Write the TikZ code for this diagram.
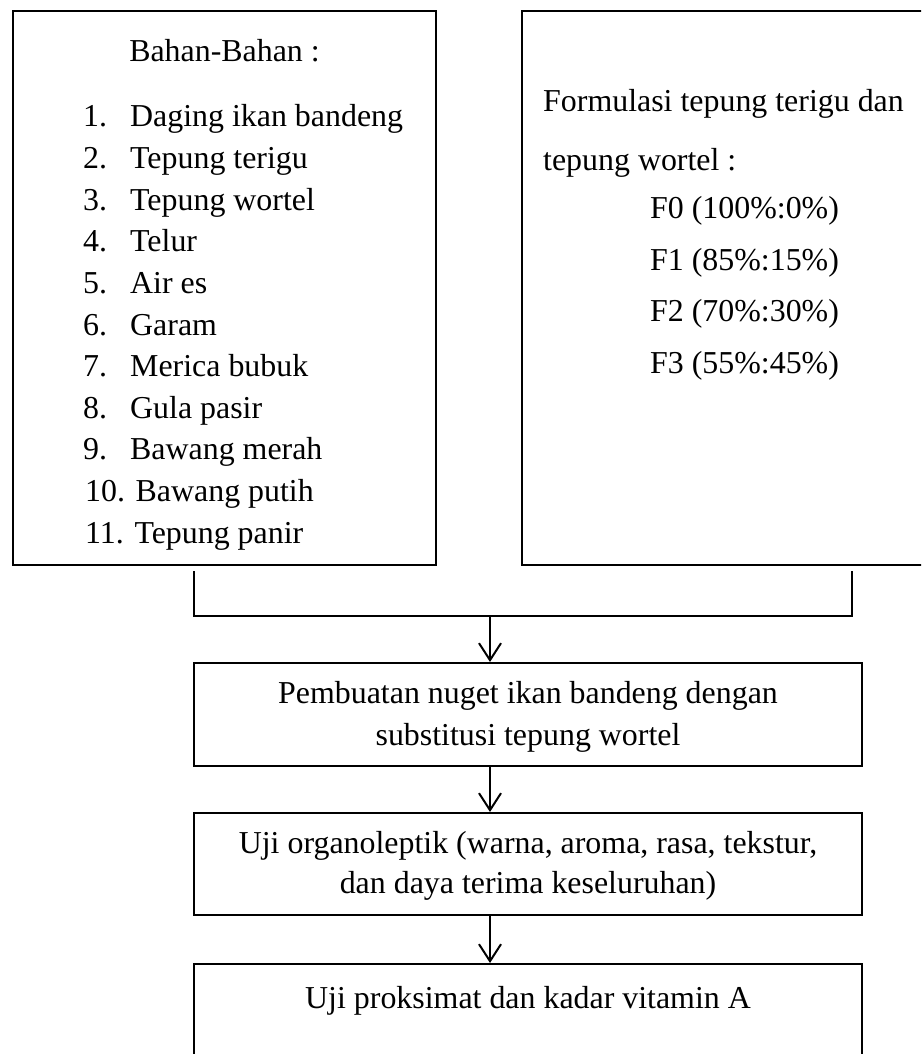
\documentclass[tikz,border=0pt]{standalone}
\usepackage{fontspec}
\setmainfont{Liberation Serif}
\usetikzlibrary{arrows.meta}
\begin{document}
\begin{tikzpicture}[x=1pt,y=-1pt,
  box/.style={draw, line width=2pt, inner sep=0pt},
  txt/.style={anchor=base west, inner sep=0pt, font=\fontsize{31.9pt}{40pt}\selectfont},
  ctxt/.style={anchor=base, inner sep=0pt, font=\fontsize{31.9pt}{40pt}\selectfont},
  conn/.style={line width=2pt},
  arr/.style={line width=2pt, -{Straight Barb[length=17pt,width=22pt,line width=2pt]}}]
\useasboundingbox (0,0) rectangle (921,1054);
\clip (0,0) rectangle (921,1054);
% boxes
\node[box, minimum width=423pt, minimum height=554pt] (bahan) at (224.5,288) {};
\node[box, minimum width=420pt, minimum height=554pt] (formula) at (732,288) {};
\node[box, minimum width=668pt, minimum height=103pt] (buat) at (528,714.5) {};
\node[box, minimum width=668pt, minimum height=102pt] (organo) at (528,864) {};
\node[box, minimum width=668pt, minimum height=112pt] (proks) at (528,1020) {};
% left text
\node[ctxt] (bhead) at (224.5,62) {Bahan-Bahan :};
\foreach \n/\t [count=\k] in {1/Daging ikan bandeng, 2/Tepung terigu, 3/Tepung wortel, 4/Telur, 5/Air es, 6/Garam, 7/Merica bubuk, 8/Gula pasir, 9/Bawang merah}{
  \node[txt] (num\k) at (83,{127+41.6*(\k-1)}) {\n.};
  \node[txt] (item\k) at (130,{127+41.6*(\k-1)}) {\t};
}
\node[txt] (item10) at (85,501.4) {10. Bawang putih};
\node[txt] (item11) at (85,543) {11. Tepung panir};
% right text
\node[txt] (fhead1) at (543,112) {Formulasi tepung terigu dan};
\node[txt] (fhead2) at (543,170) {tepung wortel :};
\node[txt] (f0) at (650,218) {F0 (100\%:0\%)};
\node[txt] (f1) at (650,270) {F1 (85\%:15\%)};
\node[txt] (f2) at (650,321) {F2 (70\%:30\%)};
\node[txt] (f3) at (650,373) {F3 (55\%:45\%)};
% box texts
\node[ctxt] (buat1) at (528,703) {Pembuatan nuget ikan bandeng dengan};
\node[ctxt] (buat2) at (528,745) {substitusi tepung wortel};
\node[ctxt] (org1) at (528,853) {Uji organoleptik (warna, aroma, rasa, tekstur,};
\node[ctxt] (org2) at (528,893) {dan daya terima keseluruhan)};
\node[ctxt] (prok1) at (528,1008) {Uji proksimat dan kadar vitamin A};
% connectors
\coordinate (bl) at (194,571);
\coordinate (br) at (852,571);
\coordinate (bj) at (490,616);
\draw[conn] (bl) |- (bj) -| (br);
\draw[arr] (bj) -- (buat.north -| bj);
\draw[arr] (buat.south -| bj) -- (organo.north -| bj);
\draw[arr] (organo.south -| bj) -- (proks.north -| bj);
\end{tikzpicture}
\end{document}
